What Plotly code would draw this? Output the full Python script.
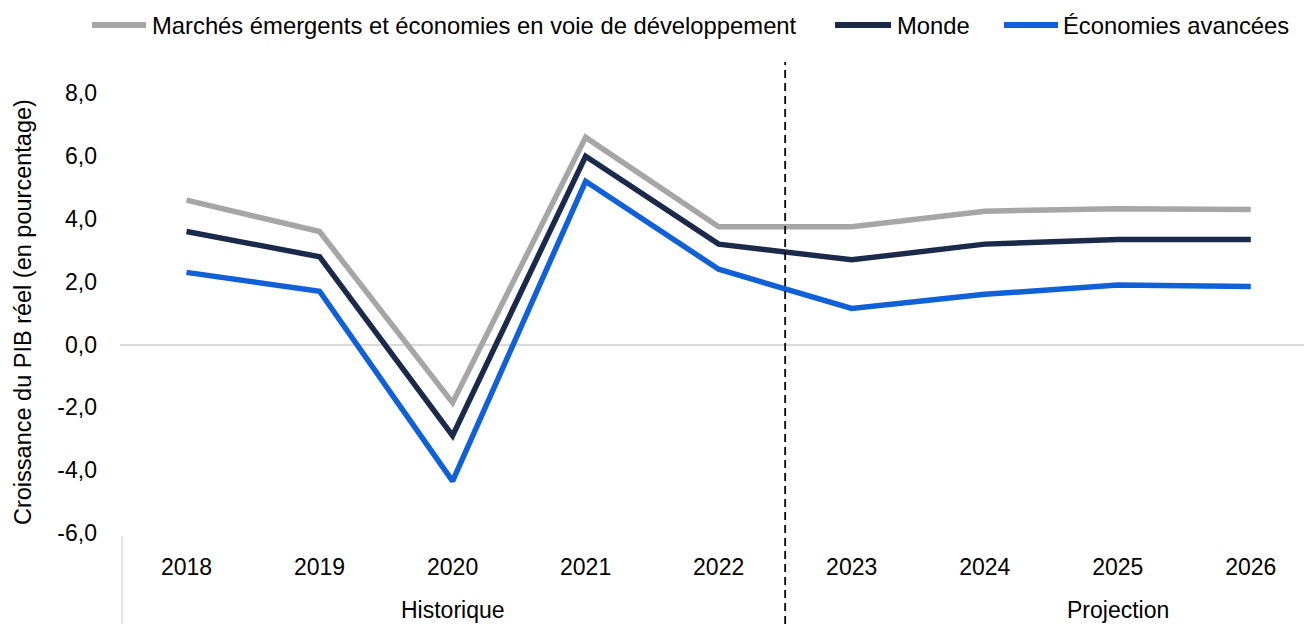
import plotly.graph_objects as go

years = ["2018", "2019", "2020", "2021", "2022", "2023", "2024", "2025", "2026"]
emde = [4.6, 3.6, -1.85, 6.6, 3.75, 3.75, 4.25, 4.33, 4.3]
world = [3.6, 2.8, -2.9, 6.0, 3.2, 2.7, 3.2, 3.35, 3.35]
advanced = [2.3, 1.7, -4.35, 5.2, 2.4, 1.15, 1.6, 1.9, 1.85]

series_names = [
    "Marchés émergents et économies en voie de développement",
    "Monde",
    "Économies avancées",
]
series_colors = ["#A6A6A6", "#1B2A4A", "#1060D8"]
y_ticks = [-6, -4, -2, 0, 2, 4, 6, 8]
periods = ["Historique", "Projection"]
y_title = "Croissance du PIB réel (en pourcentage)"

FONT = "Liberation Sans, Arial, sans-serif"
W, H = 1304, 624
ML, MR, MT, MB = 120, 0, 62, 91
PW, PH = W - ML - MR, H - MT - MB


def px_x(px):
    """Pixel column -> paper x."""
    return (px - ML) / PW


def px_y(py):
    """Pixel row (from top) -> paper y."""
    return (H - MB - py) / PH


fig = go.Figure()
for name, vals, color in zip(series_names, [emde, world, advanced], series_colors):
    fig.add_trace(go.Scatter(
        x=list(range(len(years))), y=vals, name=name, mode="lines",
        line=dict(color=color, width=5.5), showlegend=False,
    ))

# Forecast divider between 2022 and 2023
split = 4.5
fig.add_shape(type="line", xref="x", yref="paper", x0=split, x1=split, y0=px_y(H), y1=1,
              line=dict(color="black", width=1.8, dash="8px,5px"))
# Left edge separator under the category axis
fig.add_shape(type="line", xref="paper", yref="paper", x0=px_x(122), x1=px_x(122),
              y0=px_y(536), y1=px_y(H), line=dict(color="#D9D9D9", width=1.5))

# Period labels below the year labels
for xc, label in zip([2, 7], periods):
    fig.add_annotation(x=xc, y=px_y(610), xref="x", yref="paper", text=label, showarrow=False,
                       font=dict(size=23, color="black", family=FONT), yanchor="middle")

# Y axis title
fig.add_annotation(x=px_x(23), y=px_y(312), xref="paper", yref="paper", text=y_title,
                   textangle=-90, showarrow=False, xanchor="center", yanchor="middle",
                   font=dict(size=23.5, color="black", family=FONT))

# Legend row: line sample followed by the series name
legend_samples = [(92, 146, 150), (835, 891, 895), (1004, 1058, 1061)]
for (s0, s1, tx), name, color in zip(legend_samples, series_names, series_colors):
    fig.add_shape(type="line", xref="paper", yref="paper", x0=px_x(s0), x1=px_x(s1),
                  y0=px_y(25), y1=px_y(25), line=dict(color=color, width=6))
    fig.add_annotation(x=px_x(tx), y=px_y(25), xref="paper", yref="paper", text=name,
                       showarrow=False, xanchor="left", yanchor="middle",
                       font=dict(size=23.8, color="black", family=FONT))

fig.update_layout(
    width=W, height=H,
    margin=dict(l=ML, r=MR, t=MT, b=MB),
    paper_bgcolor="white", plot_bgcolor="white",
    font=dict(family=FONT, size=23, color="black"),
    showlegend=False,
    xaxis=dict(
        range=[-0.5, 8.4], tickmode="array",
        tickvals=list(range(len(years))), ticktext=years,
        showgrid=False, zeroline=False, showline=False, ticks="",
        tickfont=dict(size=23, family=FONT),
        ticklabelstandoff=18,
    ),
    yaxis=dict(
        range=[-6, 9], tickmode="array", tickvals=y_ticks,
        ticktext=[f"{v:.1f}".replace(".", ",") for v in y_ticks],
        showgrid=False, zeroline=True, zerolinecolor="#D9D9D9", zerolinewidth=2,
        showline=False, ticks="",
        tickfont=dict(size=23, family=FONT),
        ticklabelstandoff=22,
    ),
)

fig.write_html("out.html")
